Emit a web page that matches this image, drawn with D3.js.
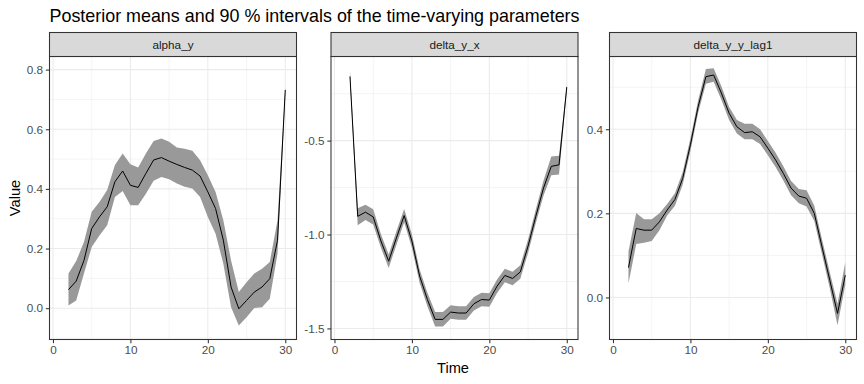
<!DOCTYPE html>
<html>
<head>
<meta charset="utf-8">
<script src="https://cdn.jsdelivr.net/npm/d3@7"></script>
<style>
  body { margin: 0; background: white; }
  svg { display: block; font-family: Arial, "Liberation Sans", sans-serif; }
</style>
</head>
<body>
<svg id="chart" width="864" height="384"></svg>
<script>
const time = [2, 3, 4, 5, 6, 7, 8, 9, 10, 11, 12, 13, 14, 15, 16, 17, 18, 19, 20, 21, 22, 23, 24, 25, 26, 27, 28, 29, 30];
const xTicks = [0, 10, 20, 30];

// alpha_y
const alphaMean  = [0.062, 0.091, 0.160, 0.267, 0.306, 0.340, 0.424, 0.460, 0.412, 0.405, 0.452, 0.497, 0.505, 0.493, 0.482, 0.472, 0.463, 0.443, 0.390, 0.334, 0.228, 0.071, -0.002, 0.026, 0.054, 0.071, 0.099, 0.228, 0.732];
const alphaLower = [0.009, 0.026, 0.116, 0.205, 0.244, 0.278, 0.373, 0.393, 0.345, 0.345, 0.384, 0.427, 0.440, 0.432, 0.418, 0.407, 0.401, 0.373, 0.306, 0.250, 0.149, 0.003, -0.058, -0.030, 0.001, 0.003, 0.032, 0.183, 0.715];
const alphaUpper = [0.116, 0.158, 0.222, 0.323, 0.356, 0.396, 0.480, 0.519, 0.483, 0.472, 0.519, 0.561, 0.569, 0.558, 0.539, 0.535, 0.528, 0.496, 0.446, 0.390, 0.295, 0.160, 0.054, 0.087, 0.116, 0.132, 0.155, 0.295, 0.740];

// delta_y_x
const dxMean  = [-0.158, -0.903, -0.881, -0.906, -1.035, -1.142, -1.018, -0.899, -1.035, -1.222, -1.346, -1.452, -1.452, -1.413, -1.418, -1.418, -1.369, -1.346, -1.349, -1.275, -1.218, -1.234, -1.199, -1.062, -0.903, -0.752, -0.637, -0.629, -0.215];
const dxLower = [-0.175, -0.950, -0.922, -0.946, -1.071, -1.178, -1.054, -0.935, -1.071, -1.258, -1.382, -1.490, -1.490, -1.449, -1.454, -1.454, -1.405, -1.382, -1.385, -1.311, -1.254, -1.270, -1.235, -1.098, -0.939, -0.792, -0.685, -0.680, -0.235];
const dxUpper = [-0.125, -0.860, -0.842, -0.866, -0.999, -1.106, -0.982, -0.864, -0.999, -1.186, -1.310, -1.412, -1.412, -1.377, -1.382, -1.382, -1.333, -1.310, -1.313, -1.239, -1.182, -1.198, -1.163, -1.026, -0.867, -0.712, -0.585, -0.580, -0.200];

// delta_y_y_lag1
const lagMean  = [0.071, 0.164, 0.160, 0.160, 0.180, 0.208, 0.233, 0.283, 0.363, 0.454, 0.525, 0.529, 0.486, 0.438, 0.406, 0.392, 0.394, 0.382, 0.355, 0.327, 0.295, 0.260, 0.241, 0.236, 0.200, 0.120, 0.041, -0.038, 0.053];
const lagLower = [0.033, 0.127, 0.130, 0.134, 0.160, 0.195, 0.218, 0.268, 0.348, 0.439, 0.508, 0.513, 0.470, 0.422, 0.390, 0.376, 0.376, 0.365, 0.338, 0.310, 0.278, 0.243, 0.224, 0.216, 0.182, 0.102, 0.022, -0.066, 0.030];
const lagUpper = [0.109, 0.201, 0.186, 0.186, 0.200, 0.222, 0.248, 0.298, 0.378, 0.469, 0.543, 0.545, 0.502, 0.453, 0.422, 0.413, 0.413, 0.400, 0.372, 0.344, 0.312, 0.277, 0.258, 0.255, 0.218, 0.138, 0.060, -0.015, 0.083];

const panelNames = ['alpha_y', 'delta_y_x', 'delta_y_y_lag1'];
const yTickSets = [[0.0, 0.2, 0.4, 0.6, 0.8], [-1.5, -1.0, -0.5], [0.0, 0.2, 0.4]];
const yMinorSets = [[-0.1, 0.1, 0.3, 0.5, 0.7], [-1.25, -0.75, -0.25], [0.1, 0.3, 0.5]];
const yDomains = [[-0.105, 0.844], [-1.559, -0.052], [-0.1, 0.573]];

const panels = [
  { mean: alphaMean, lower: alphaLower, upper: alphaUpper },
  { mean: dxMean, lower: dxLower, upper: dxUpper },
  { mean: lagMean, lower: lagLower, upper: lagUpper }
];

const svg = d3.select('#chart');
const panelLeft = [49.5, 331, 609.5];
const panelWidth = 247;
const stripTop = 32.5;
const panelTop = 56.5;
const panelBottom = 339.5;

// title
svg.append('text')
  .attr('x', 49.5)
  .attr('y', 21.8)
  .attr('font-size', 17.9)
  .attr('fill', 'black')
  .text('Posterior means and 90 % intervals of the time-varying parameters');

panels.forEach((p, i) => {
  const left = panelLeft[i];
  const right = left + panelWidth;
  const x = d3.scaleLinear().domain([-0.45, 31.45]).range([left, right]);
  const y = d3.scaleLinear().domain(yDomains[i]).range([panelBottom, panelTop]);
  const g = svg.append('g');

  // grid lines
  [5, 15, 25].forEach(v => {
    g.append('line').attr('x1', x(v)).attr('x2', x(v))
      .attr('y1', panelTop).attr('y2', panelBottom)
      .attr('stroke', '#EBEBEB').attr('stroke-width', 0.55);
  });
  yMinorSets[i].filter(v => v > yDomains[i][0] && v < yDomains[i][1]).forEach(v => {
    g.append('line').attr('x1', left).attr('x2', right)
      .attr('y1', y(v)).attr('y2', y(v))
      .attr('stroke', '#EBEBEB').attr('stroke-width', 0.55);
  });
  xTicks.forEach(v => {
    g.append('line').attr('x1', x(v)).attr('x2', x(v))
      .attr('y1', panelTop).attr('y2', panelBottom)
      .attr('stroke', '#EBEBEB').attr('stroke-width', 1.07);
  });
  yTickSets[i].forEach(v => {
    g.append('line').attr('x1', left).attr('x2', right)
      .attr('y1', y(v)).attr('y2', y(v))
      .attr('stroke', '#EBEBEB').attr('stroke-width', 1.07);
  });

  // ribbon
  const area = d3.area()
    .x((d, k) => x(time[k]))
    .y0((d, k) => y(p.lower[k]))
    .y1((d, k) => y(p.upper[k]));
  g.append('path')
    .attr('d', area(time))
    .attr('fill', '#999999');

  // mean line
  const line = d3.line()
    .x((d, k) => x(time[k]))
    .y((d, k) => y(p.mean[k]));
  g.append('path')
    .attr('d', line(time))
    .attr('fill', 'none')
    .attr('stroke', 'black')
    .attr('stroke-width', 1);

  // panel border
  g.append('rect')
    .attr('x', left).attr('y', panelTop)
    .attr('width', panelWidth).attr('height', panelBottom - panelTop)
    .attr('fill', 'none').attr('stroke', '#333333').attr('stroke-width', 1.07);

  // strip
  g.append('rect')
    .attr('x', left).attr('y', stripTop)
    .attr('width', panelWidth).attr('height', panelTop - stripTop)
    .attr('fill', '#D9D9D9').attr('stroke', '#333333').attr('stroke-width', 1.07);
  g.append('text')
    .attr('x', (left + right) / 2)
    .attr('y', (stripTop + panelTop) / 2)
    .attr('dy', '0.35em')
    .attr('text-anchor', 'middle')
    .attr('font-size', 11.73)
    .attr('fill', '#1A1A1A')
    .text(panelNames[i]);

  // axes
  const xAxis = d3.axisBottom(x).tickValues(xTicks).tickSize(3.67).tickPadding(2.9).tickFormat(d3.format('d'));
  const xg = g.append('g').attr('transform', `translate(0,${panelBottom})`).call(xAxis);
  const yAxis = d3.axisLeft(y).tickValues(yTickSets[i]).tickSize(3.67).tickPadding(2.9).tickFormat(d3.format('.1f'));
  const yg = g.append('g').attr('transform', `translate(${left},0)`).call(yAxis);
  [xg, yg].forEach(a => {
    a.select('.domain').remove();
    a.selectAll('.tick line').attr('stroke', '#333333').attr('stroke-width', 1.07);
    a.selectAll('.tick text').attr('fill', '#4D4D4D').attr('font-size', 11.73)
      .attr('font-family', 'Arial, "Liberation Sans", sans-serif');
  });
  yg.selectAll('.tick text').text(d => d3.format('.1f')(d).replace('−', '-'));
});

// axis titles
svg.append('text')
  .attr('x', 453)
  .attr('y', 373)
  .attr('text-anchor', 'middle')
  .attr('font-size', 14.67)
  .attr('fill', 'black')
  .text('Time');

svg.append('text')
  .attr('transform', `translate(19.5,${(panelTop + panelBottom) / 2}) rotate(-90)`)
  .attr('text-anchor', 'middle')
  .attr('font-size', 14.67)
  .attr('fill', 'black')
  .text('Value');
</script>
</body>
</html>
